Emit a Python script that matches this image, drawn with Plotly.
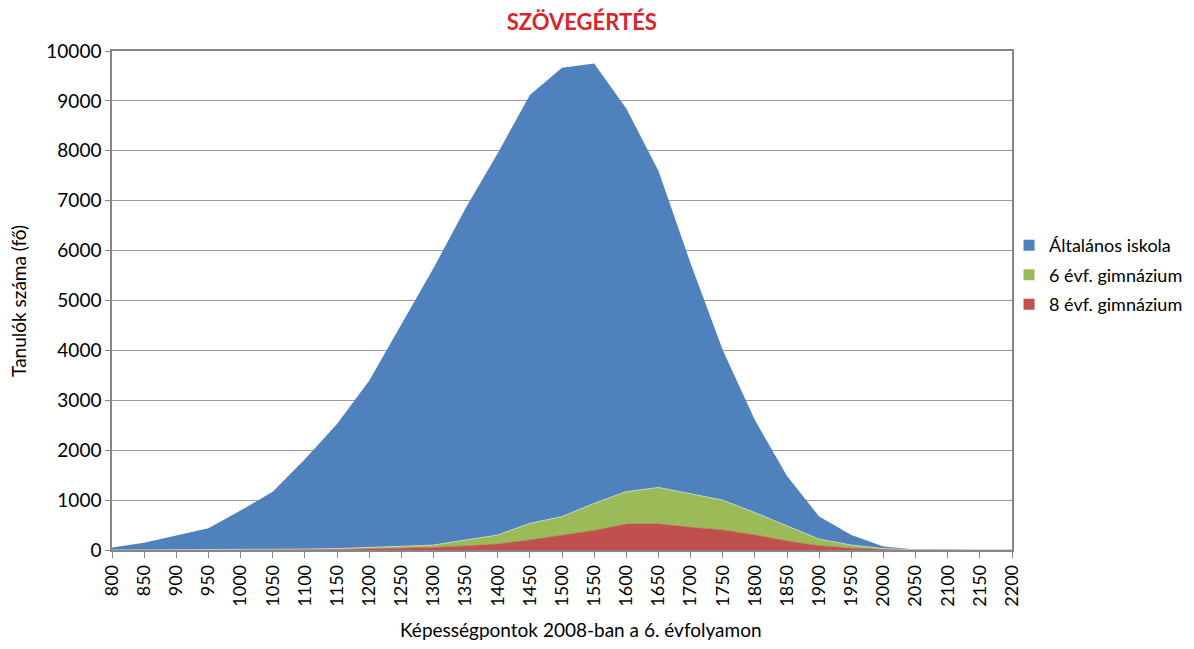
import plotly.graph_objects as go

# kepessegpontok (x kategoriak)
pontok = [str(p) for p in range(800, 2201, 50)]

# 8 evfolyamos gimnazium (also reteg)
gimn8 = [0, 0, 1, 2, 3, 5, 8, 12, 20, 30, 50, 80, 120, 200, 290, 390, 520, 520,
         455, 400, 300, 180, 85, 35, 10, 2, 0, 0, 0]
# 6 evfolyamos gimnazium
gimn6 = [1, 2, 3, 5, 7, 9, 12, 18, 25, 45, 50, 120, 180, 335, 380, 545, 650, 735,
         665, 600, 450, 300, 135, 65, 20, 3, 0, 0, 0]
# altalanos iskola
altalanos = [50, 145, 285, 430, 780, 1155, 1800, 2495, 3345, 4445, 5545, 6650, 7650,
             8585, 8995, 8815, 7680, 6345, 4625, 3010, 1855, 1005, 450, 200, 40, 5, 0, 0, 0]

font = "Lato, 'Open Sans', sans-serif"
szinek = {"Általános iskola": "#4f81bd", "6 évf. gimnázium": "#9bbb59",
          "8 évf. gimnázium": "#c0504d"}

fig = go.Figure()
fig.add_trace(go.Scatter(x=pontok, y=gimn8, name="8 évf. gimnázium", stackgroup="a",
                         mode="lines", line=dict(width=0.6, color="#c0504d"),
                         fillcolor="#c0504d", showlegend=False))
fig.add_trace(go.Scatter(x=pontok, y=gimn6, name="6 évf. gimnázium", stackgroup="a",
                         mode="lines", line=dict(width=0.6, color="#e8f0dc"),
                         fillcolor="#9bbb59", showlegend=False))
fig.add_trace(go.Scatter(x=pontok, y=altalanos, name="Általános iskola", stackgroup="a",
                         mode="lines", line=dict(width=0, color="#4f81bd"),
                         fillcolor="#4f81bd", showlegend=False))

# jelmagyarazat negyzetes jelekkel
for i, (nev, szin) in enumerate(szinek.items()):
    fig.add_trace(go.Scatter(x=[None], y=[None], mode="markers", name=nev,
                             legendgroup=f"g{i}",
                             marker=dict(symbol="square", size=11, color=szin)))

# az oldal 8px-es margoja miatt 1178x633
fig.update_layout(
    width=1178, height=633,
    margin=dict(l=104, r=174, t=43, b=91, autoexpand=False),
    paper_bgcolor="white", plot_bgcolor="white",
    font=dict(family=font, size=19, color="black"),
    title=dict(text="<b>SZÖVEGÉRTÉS</b>", x=0.522, xref="paper", xanchor="center",
               y=1 - 14 / 633, yref="container", yanchor="middle",
               font=dict(size=22, color="#d7262e")),
    legend=dict(x=0.9967, y=0.647, xanchor="left", yanchor="top", traceorder="grouped",
                font=dict(size=18), itemwidth=30, tracegroupgap=3,
                bgcolor="rgba(0,0,0,0)"),
    hovermode="x",
    annotations=[
        dict(text="Tanulók száma (fő)", textangle=-90, x=-0.104, y=0.5,
             xref="paper", yref="paper", xanchor="center", yanchor="middle",
             showarrow=False, font=dict(size=19)),
        dict(text="Képességpontok 2008-ban a 6. évfolyamon", x=0.521, y=-0.16,
             xref="paper", yref="paper", xanchor="center", yanchor="middle",
             showarrow=False, font=dict(size=19)),
    ],
)
fig.update_xaxes(
    type="category", range=[0, 28], tickangle=-90, automargin=False,
    ticks="outside", ticklen=6, tickcolor="#868686", tickfont=dict(size=18),
    showline=True, linecolor="#868686", linewidth=1.5, mirror=True,
    showgrid=False,
)
fig.update_yaxes(
    range=[0, 10000], dtick=1000, tickformat="d", automargin=False,
    showgrid=True, gridcolor="#9a9a9a", gridwidth=1,
    ticks="outside", ticklen=5, tickcolor="#868686", tickfont=dict(size=19),
    showline=True, linecolor="#868686", linewidth=1.5, mirror=True,
    zeroline=False,
)

fig.write_html("out.html")
